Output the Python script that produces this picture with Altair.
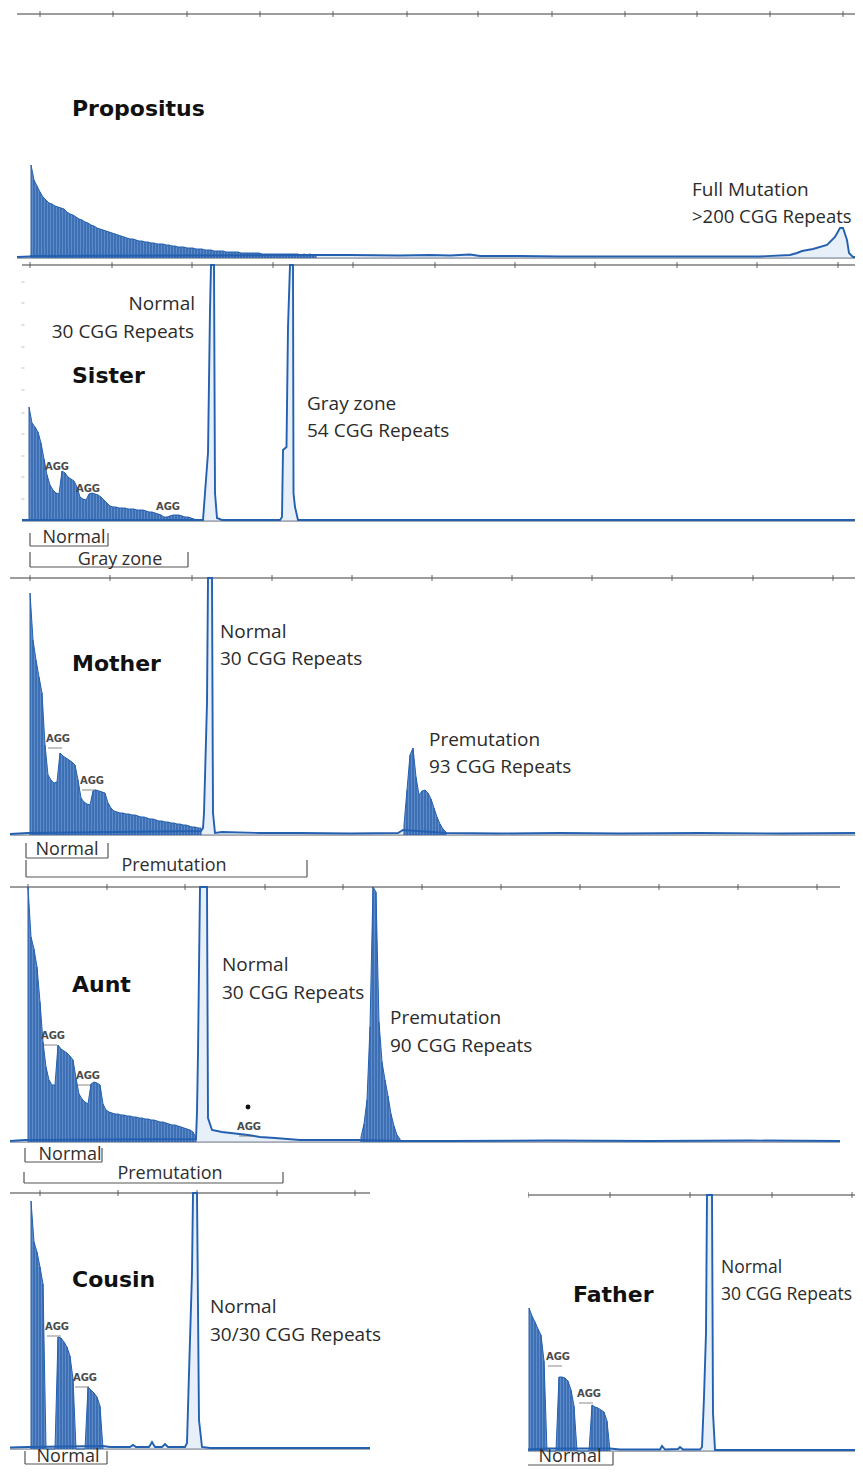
import altair as alt
import pandas as pd

# ---------------- data (x = fragment size in bp, y = signal in RFU) ----------------
STEP_BP = 3  # one CGG repeat

# Propositus
PROP_TICKS = [132, 205, 279, 352, 425, 499, 570, 644, 717, 789, 862, 935]
PROP_LADDER_START = 123
PROP_LADDER = [930, 780, 720, 660, 610, 580, 550, 540, 520, 510,
               500, 490, 460, 440, 430, 410, 390, 380, 360, 350,
               330, 320, 300, 290, 280, 270, 260, 250, 240, 230,
               220, 210, 200, 190, 190, 180, 170, 170, 160, 160,
               150, 150, 140, 140, 140, 130, 130, 120, 120, 110,
               110, 110, 100, 100, 100, 90, 90, 90, 80, 80,
               80, 70, 70, 70, 70, 60, 60, 60, 60, 60,
               50, 50, 50, 50, 50, 50, 50, 40, 40, 40,
               40, 40, 40, 40, 40, 40, 40, 40, 40, 40,
               30, 40, 30, 40, 30, 30]
PROP_TRACE_BP = [109, 122, 123, 412, 442, 492, 522, 542, 562, 572, 612, 652, 692, 742,
                 792, 852, 882, 889, 894, 905, 919, 927, 932, 935, 939, 941, 945, 955]
PROP_TRACE_RFU = [10, 15, 20, 30, 30, 25, 30, 25, 35, 20, 20, 15, 15, 15,
                  15, 15, 30, 50, 70, 90, 130, 210, 300, 300, 180, 50, 10, 10]

# Sister
SIS_TICKS = [122, 204, 284, 365, 445, 527, 607, 687, 769, 849, 930]
SIS_YDOTS = [2390, 2180, 1960, 1740, 1530, 1310, 1080, 870, 650, 440, 220]
SIS_LADDER_START = 121
SIS_LADDER = [1140, 980, 940, 890, 780, 620, 460, 360, 310, 280, 270, 500, 480, 440, 420,
              400, 340, 240, 220, 210, 270, 280, 270, 260, 240, 210, 180, 150, 140, 140,
              130, 130, 130, 120, 120, 120, 110, 110, 110, 100, 90, 90, 80, 70, 60,
              40, 40, 50, 60, 60, 60, 50, 40, 40, 30, 20, 10]
SIS_TRACE_BP = [114, 121, 289, 295, 297, 300, 302, 303, 306, 307, 309, 314, 372, 374,
                375, 378.5, 380, 382, 385, 385.5, 387, 390, 955]
SIS_TRACE_RFU = [10, 10, 10, 10, 280, 680, 2110, 2560, 2560, 280, 30, 10, 10, 40,
                 710, 740, 1940, 2560, 2560, 280, 140, 10, 10]

# Mother
MOM_TICKS = [122, 202, 284, 364, 444, 524, 604, 684, 764, 845, 925]
MOM_LADDER_START = 122
MOM_LADDER = [2420, 1950, 1750, 1580, 1420, 900, 600, 550, 520, 530, 820, 790, 770, 750,
              730, 700, 550, 370, 330, 310, 300, 440, 450, 440, 430, 420, 320, 270, 240,
              230, 220, 220, 210, 210, 200, 200, 190, 180, 180, 170, 160, 160, 150, 140,
              140, 130, 130, 120, 120, 110, 110, 100, 100, 90, 80, 80, 70, 70]
MOM_PM_START = 496
MOM_PM_LADDER = [100, 450, 800, 870, 580, 400, 440, 450, 420, 360, 270, 180, 110, 60, 30]
MOM_TRACE_BP = [102, 120, 293, 295, 296, 297, 299, 300, 304, 305, 307, 314, 352, 392,
                442, 490, 495, 538, 592, 652, 712, 792, 872, 950]
MOM_TRACE_RFU = [10, 20, 40, 70, 220, 580, 1320, 2570, 2570, 220, 20, 30, 20, 20,
                 15, 20, 50, 20, 15, 20, 15, 20, 15, 20]

# Aunt
AUNT_TICKS = [120, 199, 277, 357, 435, 514, 593, 672, 751, 830, 909]
AUNT_LADDER_START = 120
AUNT_LADDER = [2550, 2050, 1930, 1750, 1400, 1000, 750, 620, 570, 570, 970, 930, 910, 890,
               860, 820, 640, 480, 430, 400, 380, 580, 600, 590, 570, 380, 320, 300, 290,
               280, 280, 270, 270, 260, 260, 250, 250, 240, 240, 230, 230, 220, 220, 210,
               200, 200, 190, 180, 170, 170, 160, 150, 140, 130, 120, 100, 40]
AUNT_PM_START = 453
AUNT_PM_LADDER = [50, 180, 420, 1150, 2550, 2500, 1200, 800, 620, 460, 280, 160, 70, 30]
AUNT_TRACE_BP = [102, 117, 288, 289, 290, 292, 299, 300, 304, 314, 340, 352, 367, 392,
                 450, 495, 542, 642, 742, 842, 932]
AUNT_TRACE_RFU = [10, 20, 30, 300, 900, 2550, 2550, 240, 120, 100, 70, 50, 40, 20,
                  20, 10, 10, 15, 10, 15, 10]

# Cousin
COU_TICKS = [132, 210, 289, 369, 447]
COU_LADDER_START = 123
COU_LADDER = [2480, 2070, 1970, 1820, 1650, 0, 0, 0, 0, 1120, 1110, 1070, 1020, 930, 700,
              0, 0, 0, 0, 620, 590, 560, 520, 430, 0]
COU_TRACE_BP = [102, 120, 195, 202, 222, 225, 228, 241, 244, 247, 254, 257, 260, 277,
                279, 281, 284, 285, 289, 291, 294, 302, 462]
COU_TRACE_RFU = [15, 20, 30, 20, 20, 40, 20, 20, 70, 20, 20, 50, 20, 20,
                 60, 760, 1760, 2560, 2560, 290, 20, 10, 10]

# Father
FAT_TICKS = [100, 182, 262, 344, 424]
FAT_LADDER_START = 101
FAT_LADDER = [1430, 1350, 1290, 1220, 1160, 900, 0, 0, 0, 0, 740, 740, 730, 700, 610, 450,
              0, 0, 0, 0, 0, 460, 440, 430, 410, 390, 300, 0]
FAT_TRACE_BP = [100, 119, 129, 182, 192, 232, 234, 237, 250, 252, 255, 272, 274, 276,
                278, 279, 284, 285, 287, 297, 435]
FAT_TRACE_RFU = [15, 25, 25, 25, 15, 15, 50, 15, 20, 40, 15, 15, 40, 540,
                 1180, 2560, 2560, 380, 10, 10, 10]

# ---------------- panel definitions ----------------
PANELS = [
    dict(width=847, height=253, xdom=[100, 947], ydom=[-30, 2500],
         axis=[109, 955, 2440], base=[109, 955], ticks=PROP_TICKS,
         ladders=[(PROP_LADDER_START, PROP_LADDER)],
         trace=(PROP_TRACE_BP, PROP_TRACE_RFU),
         names=[("Propositus", 164, 1495)],
         labels=[("Full Mutation", 784, 680, "left", 19), (">200 CGG Repeats", 784, 410, "left", 18.5)],
         brackets=[], aggs=[], dots=[], ydots=[]),
    dict(width=847, height=313, xdom=[100, 947], ydom=[-530, 2600],
         axis=[114, 955, 2560], base=[114, 955], ticks=SIS_TICKS,
         ladders=[(SIS_LADDER_START, SIS_LADDER)],
         trace=(SIS_TRACE_BP, SIS_TRACE_RFU),
         names=[("Sister", 164, 1450)],
         labels=[("Normal", 287, 2175, "right", 19), ("30 CGG Repeats", 286, 1895, "right", 19),
                 ("Gray zone", 399, 1175, "left", 19), ("54 CGG Repeats", 399, 900, "left", 19)],
         brackets=[("Normal", 122, 200, -120, -250, 166, -170),
                   ("Gray zone", 122, 280, -310, -460, 212, -390)],
         aggs=[(149, 540, False), (180, 320, False), (260, 140, False)],
         dots=[], ydots=[(115, v) for v in SIS_YDOTS]),
    dict(width=847, height=309, xdom=[100, 947], ydom=[-480, 2610],
         axis=[102, 950, 2570], base=[102, 950], ticks=MOM_TICKS,
         ladders=[(MOM_LADDER_START, MOM_LADDER), (MOM_PM_START, MOM_PM_LADDER)],
         trace=(MOM_TRACE_BP, MOM_TRACE_RFU),
         names=[("Mother", 164, 1710)],
         labels=[("Normal", 312, 2035, "left", 19), ("30 CGG Repeats", 312, 1765, "left", 19),
                 ("Premutation", 521, 950, "left", 19), ("93 CGG Repeats", 521, 685, "left", 19)],
         brackets=[("Normal", 118, 200, -80, -230, 159, -150),
                   ("Premutation", 118, 399, -250, -420, 266, -310)],
         aggs=[(150, 960, True), (184, 540, True)], dots=[], ydots=[]),
    dict(width=847, height=306, xdom=[100, 947], ydom=[-470, 2590],
         axis=[102, 932, 2550], base=[102, 932], ticks=AUNT_TICKS,
         ladders=[(AUNT_LADDER_START, AUNT_LADDER), (AUNT_PM_START, AUNT_PM_LADDER)],
         trace=(AUNT_TRACE_BP, AUNT_TRACE_RFU),
         names=[("Aunt", 164, 1570)],
         labels=[("Normal", 314, 1770, "left", 19), ("30 CGG Repeats", 314, 1490, "left", 19),
                 ("Premutation", 482, 1240, "left", 19), ("90 CGG Repeats", 482, 960, "left", 19)],
         brackets=[("Normal", 117, 194, -60, -200, 162, -130),
                   ("Premutation", 116, 375, -300, -410, 262, -320)],
         aggs=[(145, 1060, True), (180, 660, True), (341, 150, True)],
         dots=[(340, 350)], ydots=[]),
    dict(width=520, height=278, xdom=[100, 620], ydom=[-180, 2600],
         axis=[102, 462, 2560], base=[102, 462], ticks=COU_TICKS,
         ladders=[(COU_LADDER_START, COU_LADDER)],
         trace=(COU_TRACE_BP, COU_TRACE_RFU),
         names=[("Cousin", 164, 1690)],
         labels=[("Normal", 302, 1420, "left", 19), ("30/30 CGG Repeats", 302, 1140, "left", 19)],
         brackets=[("Normal", 117, 199, -20, -150, 160, -80)],
         aggs=[(149, 1220, True), (177, 710, True)], dots=[], ydots=[]),
    dict(width=327, height=278, xdom=[100, 427], ydom=[-160, 2620],
         axis=[100, 435, 2560], base=[100, 435], ticks=FAT_TICKS,
         ladders=[(FAT_LADDER_START, FAT_LADDER)],
         trace=(FAT_TRACE_BP, FAT_TRACE_RFU),
         names=[("Father", 145, 1560)],
         labels=[("Normal", 293, 1830, "left", 17.5), ("30 CGG Repeats", 293, 1560, "left", 17.5)],
         brackets=[("Normal", 99, 185, -10, -140, 142, -60)],
         aggs=[(130, 940, True), (161, 570, True)], dots=[], ydots=[]),
]

LINE_BLUE = "#2460b0"
FILL_BLUE = "#2f6bbd"
SPIKE_BLUE = "#1a4b98"
PEAK_FILL = "#b9d0ef"
LABEL_FONT = "Open Sans"


def panel(p):
    xs = alt.Scale(domain=p["xdom"], nice=False, zero=False)
    ys = alt.Scale(domain=p["ydom"], nice=False, zero=False)

    def X(f):
        return alt.X(f, type="quantitative", scale=xs, axis=None)

    def Y(f):
        return alt.Y(f, type="quantitative", scale=ys, axis=None)

    layers = []
    # baseline
    base_df = pd.DataFrame({"x": [p["base"][0]], "x2": [p["base"][1]], "y": [0]})
    layers.append(alt.Chart(base_df).mark_rule(color="#8d9099", strokeWidth=1.6, clip=True)
                  .encode(x=X("x"), x2="x2:Q", y=Y("y")))
    # top axis line + ticks
    ax_df = pd.DataFrame({"x": [p["axis"][0]], "x2": [p["axis"][1]], "y": [p["axis"][2]]})
    layers.append(alt.Chart(ax_df).mark_rule(color="#7d7d7d", strokeWidth=1.5, clip=True)
                  .encode(x=X("x"), x2="x2:Q", y=Y("y")))
    tk_df = pd.DataFrame({"x": p["ticks"], "y": [p["axis"][2]] * len(p["ticks"])})
    layers.append(alt.Chart(tk_df).mark_tick(orient="vertical", size=6, thickness=1.3,
                                             color="#555555", clip=True)
                  .encode(x=X("x"), y=Y("y")))
    if p["ydots"]:
        yd = pd.DataFrame(p["ydots"], columns=["x", "y"])
        layers.append(alt.Chart(yd).mark_tick(orient="horizontal", size=3, thickness=1.5,
                                              color="#c4c4c4", clip=True)
                      .encode(x=X("x"), y=Y("y")))
    # trace (full-length peaks + baseline)
    tr = pd.DataFrame({"x": p["trace"][0], "y": p["trace"][1]})
    layers.append(alt.Chart(tr).mark_area(color=PEAK_FILL, opacity=0.35, clip=True)
                  .encode(x=X("x"), y=Y("y"), y2=alt.datum(0)))
    # stutter ladders
    rows = []
    for k, (start, hs) in enumerate(p["ladders"]):
        for i, h in enumerate(hs):
            rows.append({"x": start + STEP_BP * i, "y": h, "lad": k})
    ld = pd.DataFrame(rows)
    layers.append(alt.Chart(ld).mark_area(color=FILL_BLUE, opacity=0.78, clip=True)
                  .encode(x=X("x"), y=Y("y"), y2=alt.datum(0), detail="lad:N"))
    layers.append(alt.Chart(ld).mark_rule(color=SPIKE_BLUE, strokeWidth=1.0, opacity=0.9, clip=True)
                  .encode(x=X("x"), y=Y("y"), y2=alt.datum(0)))
    layers.append(alt.Chart(ld).mark_line(color=LINE_BLUE, strokeWidth=1.0, clip=True)
                  .encode(x=X("x"), y=Y("y"), detail="lad:N"))
    layers.append(alt.Chart(tr).mark_line(color=LINE_BLUE, strokeWidth=1.9, clip=True)
                  .encode(x=X("x"), y=Y("y")))
    # brackets
    if p["brackets"]:
        seg = []
        for (t, x1, x2, yt, yb, tx, ty) in p["brackets"]:
            seg.append({"x": x1, "x2": x1, "y": yt, "y2": yb})
            seg.append({"x": x1, "x2": x2, "y": yb, "y2": yb})
            seg.append({"x": x2, "x2": x2, "y": yt, "y2": yb})
        sd = pd.DataFrame(seg)
        layers.append(alt.Chart(sd).mark_rule(color="#555555", strokeWidth=1.2, clip=True)
                      .encode(x=X("x"), x2="x2:Q", y=Y("y"), y2="y2:Q"))
        bt = pd.DataFrame([{"t": b[0], "x": b[5], "y": b[6]} for b in p["brackets"]])
        layers.append(alt.Chart(bt).mark_text(font=LABEL_FONT, fontSize=18, color="#2e2e2e",
                                              align="center", baseline="middle", clip=True)
                      .encode(x=X("x"), y=Y("y"), text="t:N"))
    # AGG annotations
    if p["aggs"]:
        ag = pd.DataFrame([{"x": a[0], "y": a[1], "u": a[2], "t": "AGG"} for a in p["aggs"]])
        layers.append(alt.Chart(ag).mark_text(font="DejaVu Sans", fontSize=10, fontWeight="bold",
                                              color="#4a4a4a", align="center", baseline="middle",
                                              clip=True)
                      .encode(x=X("x"), y=Y("y"), text="t:N"))
        agu = ag[ag["u"]]
        if len(agu):
            layers.append(alt.Chart(agu).mark_tick(orient="horizontal", size=14, thickness=1,
                                                   color="#555555", yOffset=9, xOffset=-3,
                                                   clip=True)
                          .encode(x=X("x"), y=Y("y")))
    if p["dots"]:
        dd = pd.DataFrame(p["dots"], columns=["x", "y"])
        layers.append(alt.Chart(dd).mark_circle(size=24, color="#111111", opacity=1, clip=True)
                      .encode(x=X("x"), y=Y("y")))
    # names
    nm = pd.DataFrame(p["names"], columns=["t", "x", "y"])
    layers.append(alt.Chart(nm).mark_text(font="DejaVu Sans", fontSize=22, fontWeight="bold",
                                          color="#111111", align="left", baseline="middle",
                                          clip=True)
                  .encode(x=X("x"), y=Y("y"), text="t:N"))
    # labels
    lb = pd.DataFrame(p["labels"], columns=["t", "x", "y", "a", "fs"])
    for al in ["left", "right"]:
        for fs in sorted(lb["fs"].unique()):
            sub = lb[(lb["a"] == al) & (lb["fs"] == fs)]
            if len(sub):
                layers.append(alt.Chart(sub).mark_text(font=LABEL_FONT, fontSize=float(fs),
                                                       color="#2b2b2b", align=al,
                                                       baseline="middle", clip=True)
                              .encode(x=X("x"), y=Y("y"), text="t:N"))
    return alt.layer(*layers).properties(width=p["width"], height=p["height"])


rows_top = [panel(p) for p in PANELS[:4]]
bottom = alt.hconcat(panel(PANELS[4]), panel(PANELS[5]), spacing=0)
chart = (alt.vconcat(*rows_top, bottom, spacing=0)
         .properties(padding=0, background="white")
         .configure_view(stroke=None)
         .configure_concat(spacing=0))

chart.save("out.html", embed_options={"renderer": "svg", "actions": False})
